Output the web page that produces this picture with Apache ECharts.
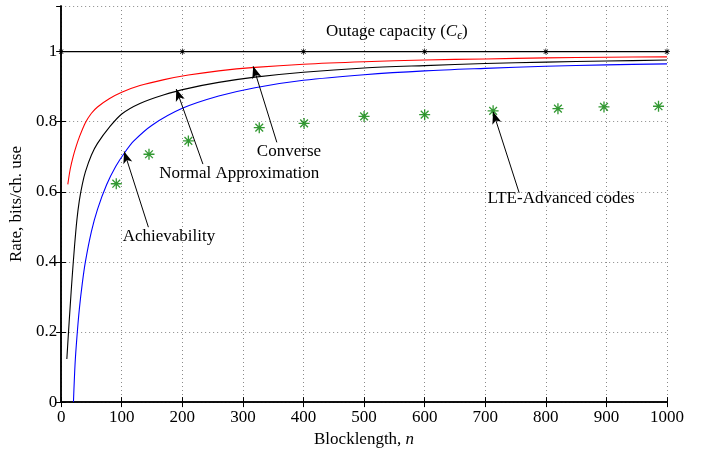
<!DOCTYPE html>
<html><head><meta charset="utf-8">
<script src="https://cdn.jsdelivr.net/npm/echarts/dist/echarts.min.js"></script>
<style>html,body{margin:0;padding:0;background:#fff}#c{width:708px;height:453px}</style>
</head><body><div id="c"></div>
<script>
// ---- data ----
const xTicks = [0,100,200,300,400,500,600,700,800,900,1000];
const yTicks = [0,0.2,0.4,0.6,0.8,1];

const outageN = [0,200,400,600,800,1000];
const outageR = [1,1,1,1,1,1];

const converseN = [11,15,20,25,30,40,50,60,80,100,130,170,210,260,320,400,500,600,700,800,900,1000];
const converseR = [0.621,0.665,0.702,0.731,0.756,0.797,0.824,0.842,0.866,0.884,0.903,0.920,0.933,0.945,0.955,0.964,0.971,0.976,0.979,0.982,0.984,0.985];

const normalN = [9.4,12,15,18,22,26,30,35,40,50,60,80,100,130,170,210,260,320,400,500,600,700,800,900,1000];
const normalR = [0.123,0.196,0.276,0.352,0.443,0.520,0.575,0.622,0.657,0.705,0.738,0.785,0.822,0.852,0.877,0.895,0.912,0.927,0.941,0.953,0.960,0.966,0.970,0.973,0.976];

const achN = [20.3,23,26,30,35,40,50,60,75,90,105,120,150,200,260,320,400,500,600,700,800,900,1000];
const achR = [0,0.110,0.185,0.265,0.340,0.400,0.487,0.550,0.620,0.672,0.712,0.745,0.790,0.838,0.873,0.897,0.918,0.934,0.945,0.952,0.958,0.962,0.965];

const lteN = [91,145,210,327,401,500,600,713,820,896,986];
const lteR = [0.623,0.707,0.745,0.783,0.795,0.815,0.820,0.831,0.837,0.842,0.844];

// annotations: [text, textN, textR, tailN, tailR, tipN, tipR]
const annotations = [
  ['Converse', 376, 0.715, 356, 0.741, 317, 0.958],
  ['Normal Approximation', 294, 0.651, 234, 0.679, 190, 0.893],
  ['Achievability', 178, 0.473, 144, 0.499, 104, 0.715],
  ['LTE-Advanced codes', 825, 0.580, 756, 0.597, 713, 0.828]
];
const outageLabelPos = [554, 1.056];

// ---- chart ----
const FONT = 'Liberation Serif';
const zip = (a, b) => a.map((v, i) => [v, b[i]]);
const star = 'path://M-1.2,-10L1.2,-10L1.2,10L-1.2,10Z M-10,-1.2L10,-1.2L10,1.2L-10,1.2Z M-6.2,-7.9L7.9,6.2L6.2,7.9L-7.9,-6.2Z M-7.9,6.2L6.2,-7.9L7.9,-6.2L-6.2,7.9Z';

const chart = echarts.init(document.getElementById('c'), null, {renderer: 'canvas'});
const axisLine = {show: true, lineStyle: {color: '#000', width: 1.5}};
const tick = {show: true, inside: true, length: 5, lineStyle: {color: '#000', width: 1}};
const split = {show: true, lineStyle: {color: '#8a8a8a', width: 1, type: [1, 3]}};
const plain = v => String(Math.round(v * 1000) / 1000);
const curve = (name, n, r, color) => ({
  name, type: 'line', data: zip(n, r), smooth: 0.3, showSymbol: false,
  lineStyle: {color, width: 1.1}
});

chart.setOption({
  animation: false,
  backgroundColor: '#fff',
  grid: {left: 61, right: 41, top: 6, bottom: 46, containLabel: false},
  xAxis: [{
    type: 'value', min: 0, max: 1000, interval: 100, position: 'bottom',
    axisLine, axisTick: tick, splitLine: split,
    axisLabel: {color: '#000', fontFamily: FONT, fontSize: 17, margin: 7, formatter: plain},
    name: 'Blocklength, {i|n}', nameLocation: 'middle', nameGap: 24,
    nameTextStyle: {color: '#000', fontFamily: FONT, fontSize: 17,
      rich: {i: {fontStyle: 'italic', fontFamily: FONT, fontSize: 17, color: '#000'}}}
  }, {
    type: 'value', min: 0, max: 1000, interval: 100, position: 'top',
    axisLine, axisTick: tick, splitLine: {show: false}, axisLabel: {show: false}
  }],
  yAxis: [{
    type: 'value', min: 0, max: 1.13, interval: 0.2, position: 'left',
    axisLine, axisTick: tick, splitLine: split,
    axisLabel: {color: '#000', fontFamily: FONT, fontSize: 17, margin: 4, showMaxLabel: false, formatter: plain},
    name: 'Rate, bits/ch. use', nameLocation: 'middle', nameGap: 28,
    nameTextStyle: {color: '#000', fontFamily: FONT, fontSize: 17}
  }, {
    type: 'value', min: 0, max: 1.13, interval: 0.2, position: 'right',
    axisLine, axisTick: tick, splitLine: {show: false}, axisLabel: {show: false}
  }],
  series: [
    {name: 'Outage', type: 'line', data: zip(outageN, outageR), clip: false,
     symbol: star, symbolSize: 6, showSymbol: true,
     itemStyle: {color: '#000'}, lineStyle: {color: '#000', width: 1.2}},
    curve('Converse', converseN, converseR, '#ff0000'),
    curve('Normal', normalN, normalR, '#000000'),
    curve('Achievability', achN, achR, '#0000ff'),
    {name: 'LTE', type: 'scatter', data: zip(lteN, lteR), symbol: star, symbolSize: 11,
     itemStyle: {color: '#008000'},
     markLine: {
       silent: true, animation: false, symbol: ['none', 'arrow'], symbolSize: [7, 12],
       lineStyle: {color: '#000', width: 1, type: 'solid'}, label: {show: false},
       data: annotations.map(a => [{coord: [a[3], a[4]]}, {coord: [a[5], a[6]]}])
     }}
  ]
});

const txt = (x, y, style) => ({type: 'text', x, y, silent: true, style});
const gfx = annotations.map(a => {
  const p = chart.convertToPixel({gridIndex: 0}, [a[1], a[2]]);
  return txt(p[0], p[1], {text: a[0], fill: '#000', font: '17px "' + FONT + '"', align: 'center', verticalAlign: 'middle'});
});
const op = chart.convertToPixel({gridIndex: 0}, outageLabelPos);
gfx.push(txt(op[0], op[1], {
  text: 'Outage capacity ({i|C}{s|ϵ})', fill: '#000', font: '17px "' + FONT + '"',
  align: 'center', verticalAlign: 'middle',
  rich: {i: {fontStyle: 'italic', fontFamily: FONT, fontSize: 17, fill: '#000'},
         s: {fontStyle: 'italic', fontFamily: FONT, fontSize: 12, fill: '#000', padding: [8, 0, 0, 0]}}
}));
chart.setOption({graphic: gfx});
</script>
</body></html>
